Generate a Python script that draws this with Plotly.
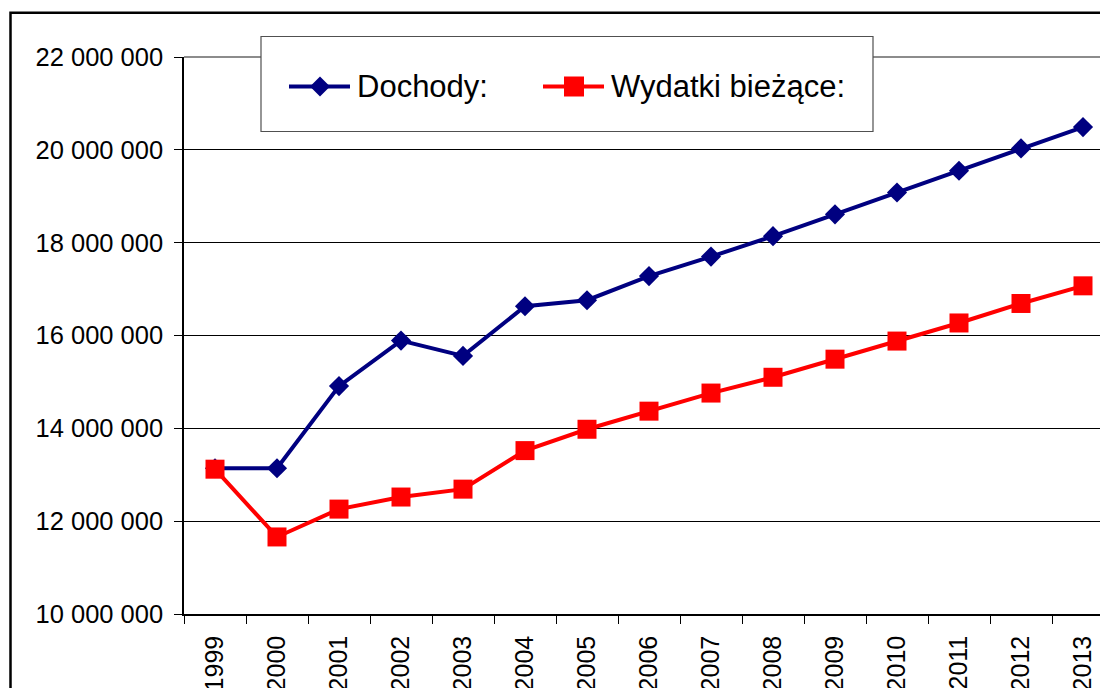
import plotly.graph_objects as go

years = ["1999", "2000", "2001", "2002", "2003", "2004", "2005", "2006",
         "2007", "2008", "2009", "2010", "2011", "2012", "2013"]
dochody = [13140000, 13140000, 14910000, 15890000, 15560000, 16630000, 16760000,
           17280000, 17700000, 18140000, 18610000, 19080000, 19550000, 20030000, 20490000]
wydatki = [13120000, 11660000, 12260000, 12520000, 12690000, 13520000, 13980000,
           14370000, 14760000, 15100000, 15490000, 15880000, 16270000, 16690000, 17070000]
names = ["Dochody:", "Wydatki bieżące:"]
y_ticks = [10000000, 12000000, 14000000, 16000000, 18000000, 20000000, 22000000]

W, H = 1100, 688
L, R, T, B = 184, 0, 57, 74
PW, PH = W - L - R, H - T - B


def px(x):
    """window pixel x -> paper x"""
    return (x - L) / PW


def py(y):
    """window pixel y -> paper y"""
    return 1 - (y - T) / PH


NAVY = "#000080"
RED = "#FF0000"
FONT = "Liberation Sans, Arial, sans-serif"

fig = go.Figure()
fig.add_trace(go.Scatter(x=years, y=dochody, name=names[0], mode="lines+markers",
                         line=dict(color=NAVY, width=4),
                         marker=dict(symbol="diamond", size=15.5, color=NAVY),
                         showlegend=False))
fig.add_trace(go.Scatter(x=years, y=wydatki, name=names[1], mode="lines+markers",
                         line=dict(color=RED, width=4),
                         marker=dict(symbol="square", size=19, color=RED),
                         showlegend=False))

shapes = [
    # outer chart border (only left and top edges are visible)
    dict(type="rect", xref="paper", yref="paper", x0=px(10.5), x1=px(1300),
         y0=py(12.8), y1=py(900), line=dict(color="black", width=2.5), layer="below"),
    # plot area top border (grey)
    dict(type="line", xref="paper", yref="paper", x0=0, x1=1, y0=1, y1=1,
         line=dict(color="#8c8c8c", width=2), layer="above"),
    # legend box
    dict(type="rect", xref="paper", yref="paper", x0=px(261), x1=px(873),
         y0=py(36.5), y1=py(131.5), fillcolor="white",
         line=dict(color="#505050", width=1.2), layer="above"),
    # legend symbol: Dochody
    dict(type="line", xref="paper", yref="paper", x0=px(289), x1=px(350),
         y0=py(86.5), y1=py(86.5), line=dict(color=NAVY, width=4), layer="above"),
    dict(type="path", xref="paper", yref="paper",
         path=f"M {px(320)},{py(76.5)} L {px(330)},{py(86.5)} L {px(320)},{py(96.5)} L {px(310)},{py(86.5)} Z",
         fillcolor=NAVY, line=dict(color=NAVY, width=0), layer="above"),
    # legend symbol: Wydatki
    dict(type="line", xref="paper", yref="paper", x0=px(543), x1=px(604),
         y0=py(86.5), y1=py(86.5), line=dict(color=RED, width=4), layer="above"),
    dict(type="rect", xref="paper", yref="paper", x0=px(564), x1=px(584),
         y0=py(76.5), y1=py(96.5), fillcolor=RED, line=dict(color=RED, width=0), layer="above"),
]

annotations = [
    dict(text=names[0], xref="paper", yref="paper", x=px(355), y=py(86.5),
         xanchor="left", yanchor="middle", showarrow=False,
         font=dict(family=FONT, size=31, color="black")),
    dict(text=names[1], xref="paper", yref="paper", x=px(609), y=py(86.5),
         xanchor="left", yanchor="middle", showarrow=False,
         font=dict(family=FONT, size=31, color="black")),
]

fig.update_layout(
    width=W, height=H,
    margin=dict(l=L, r=R, t=T, b=B, pad=0),
    paper_bgcolor="white", plot_bgcolor="white",
    font=dict(family=FONT, size=25, color="black"),
    separators=", ",
    showlegend=False,
    shapes=shapes,
    annotations=annotations,
    xaxis=dict(type="category", categoryorder="array", categoryarray=years,
               range=[-0.5, -0.5 + PW / 62.0],
               tickson="boundaries", ticks="outside", ticklen=8, tickwidth=1,
               tickcolor="black", showline=True, linecolor="black", linewidth=1.5,
               showgrid=False, zeroline=False, tickangle=-90,
               tickfont=dict(family=FONT, size=25, color="black"),
               ticklabelstandoff=10, automargin=False),
    yaxis=dict(range=[10000000, 22000000], tickvals=y_ticks, tickformat=",d",
               ticks="outside", ticklen=8, tickwidth=1, tickcolor="black",
               showline=True, linecolor="black", linewidth=1.5,
               showgrid=True, gridcolor="black", gridwidth=1, zeroline=False,
               tickfont=dict(family=FONT, size=25.5, color="black"),
               ticklabelstandoff=6, automargin=False),
)

# remove the default page margin so the 1100x688 figure fills the window exactly
fig.write_html("out.html",
               config={"displayModeBar": False},
               post_script="document.body.style.margin='0';document.body.style.overflow='hidden';")
